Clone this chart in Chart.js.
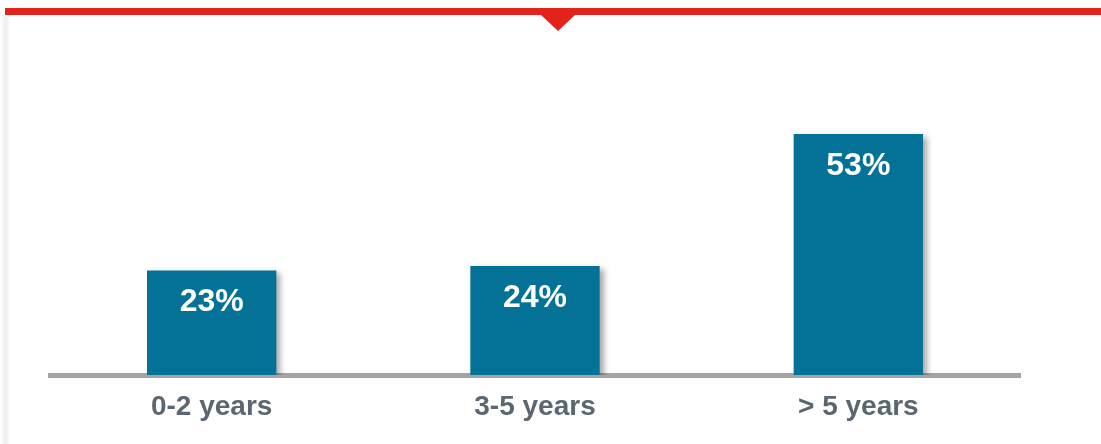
<!DOCTYPE html>
<html>
<head>
<meta charset="utf-8">
<script src="https://cdn.jsdelivr.net/npm/chart.js@4"></script>
<style>
  html, body { margin: 0; padding: 0; background: #fff; }
  #wrap { position: relative; width: 1101px; height: 444px; }
</style>
</head>
<body>
<div id="wrap"><canvas id="chart" width="1101" height="444"></canvas></div>
<script>
const categories = ["0-2 years", "3-5 years", "> 5 years"];
const shares = [23, 24, 53];
const shareLabels = ["23%", "24%", "53%"];

const teal = "#037296";
const red = "#e2231a";

// red header line with little pointer, plus faint card shadow on the left
const frame = {
  id: "frame",
  beforeDraw(chart) {
    const ctx = chart.ctx;
    ctx.save();
    const g = ctx.createLinearGradient(0, 0, 10, 0);
    g.addColorStop(0, "rgba(0,0,0,0.0)");
    g.addColorStop(0.6, "rgba(0,0,0,0.07)");
    g.addColorStop(1, "rgba(0,0,0,0.0)");
    ctx.fillStyle = g;
    ctx.fillRect(0, 14, 10, 430);
    ctx.fillStyle = red;
    ctx.fillRect(5, 8, 1096, 7);
    ctx.beginPath();
    ctx.moveTo(541, 15);
    ctx.lineTo(575, 15);
    ctx.lineTo(558, 31);
    ctx.closePath();
    ctx.fill();
    ctx.restore();
  }
};

const barShadow = {
  id: "barShadow",
  beforeDatasetDraw(chart) {
    const ctx = chart.ctx;
    ctx.save();
    ctx.shadowColor = "rgba(0,0,0,0.35)";
    ctx.shadowBlur = 6;
    ctx.shadowOffsetX = 4;
    ctx.shadowOffsetY = 3;
  },
  afterDatasetDraw(chart) {
    chart.ctx.restore();
  }
};

const valueLabels = {
  id: "valueLabels",
  afterDatasetsDraw(chart) {
    const ctx = chart.ctx;
    const meta = chart.getDatasetMeta(0);
    ctx.save();
    ctx.fillStyle = "#ffffff";
    ctx.font = "bold 32px 'Liberation Sans', Arial, sans-serif";
    ctx.textAlign = "center";
    ctx.textBaseline = "middle";
    meta.data.forEach((bar, i) => {
      ctx.fillText(shareLabels[i], bar.x, bar.y + 32);
    });
    ctx.restore();
  }
};

new Chart(document.getElementById("chart"), {
  type: "bar",
  data: {
    labels: categories,
    datasets: [
      {
        data: shares,
        backgroundColor: teal,
        borderWidth: 0,
        barPercentage: 0.4,
        categoryPercentage: 1.0
      }
    ]
  },
  options: {
    responsive: false,
    animation: false,
    devicePixelRatio: 1,
    layout: { padding: { left: 50, right: 81, top: 34, bottom: 13 } },
    plugins: {
      legend: { display: false },
      tooltip: { enabled: false }
    },
    scales: {
      x: {
        z: 1,
        grid: { display: false },
        border: { display: true, color: "#a2a4a7", width: 5 },
        ticks: {
          color: "#5b6670",
          padding: 3,
          font: { family: "'Liberation Sans', Arial, sans-serif", size: 28, weight: "bold", lineHeight: 1.5 }
        }
      },
      y: {
        display: false,
        min: 0,
        max: 75
      }
    }
  },
  plugins: [frame, barShadow, valueLabels]
});
</script>
</body>
</html>
